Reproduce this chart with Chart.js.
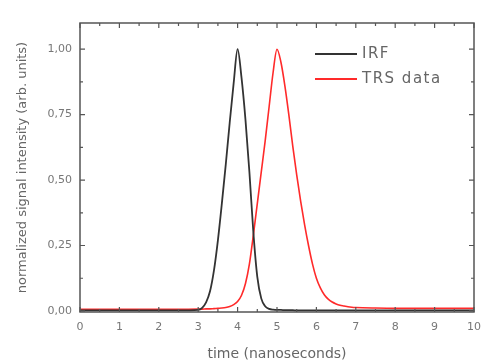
<!DOCTYPE html>
<html>
<head>
<meta charset="utf-8">
<script src="https://cdn.jsdelivr.net/npm/chart.js@4"></script>
<style>
  html, body { margin: 0; padding: 0; background: #fff; }
  #wrap { width: 482px; height: 363px; }
</style>
</head>
<body>
<div id="wrap"><canvas id="trsChart" width="482" height="363"></canvas></div>
<script>
// time axis in nanoseconds (finer spacing around the peaks)
const times = [0, 0.5, 1, 1.5, 2, 2.5,
  3.0, 3.1, 3.2, 3.3, 3.4, 3.5, 3.6, 3.7, 3.8, 3.9,
  4.0, 4.1, 4.2, 4.3, 4.4, 4.5, 4.6, 4.7, 4.8, 4.9,
  5.0, 5.1, 5.2, 5.3, 5.4, 5.5, 5.6, 5.7, 5.8, 5.9,
  6.0, 6.1, 6.2, 6.3, 6.4, 6.5, 6.6, 6.7, 6.8, 6.9,
  7.0, 7.5, 8, 8.5, 9, 9.5, 10];

// instrument response function
const irf = [0.002, 0.002, 0.002, 0.002, 0.002, 0.002,
  0.004, 0.012, 0.033, 0.075, 0.155, 0.27, 0.41, 0.56, 0.72, 0.87,
  1.0, 0.89, 0.73, 0.53, 0.30, 0.13, 0.048, 0.018, 0.008, 0.005,
  0.004, 0.004, 0.003, 0.003, 0.003, 0.002, 0.002, 0.002, 0.002, 0.002,
  0.002, 0.002, 0.002, 0.002, 0.002, 0.002, 0.002, 0.002, 0.002, 0.002,
  0.002, 0.002, 0.002, 0.002, 0.002, 0.002, 0.002];

// time-resolved spectroscopy data
const trs = [0.006, 0.006, 0.006, 0.006, 0.006, 0.006,
  0.007, 0.007, 0.008, 0.008, 0.009, 0.010, 0.011, 0.013, 0.017, 0.024,
  0.036, 0.06, 0.105, 0.18, 0.29, 0.41, 0.53, 0.65, 0.78, 0.91,
  1.0, 0.95, 0.86, 0.75, 0.63, 0.52, 0.42, 0.33, 0.25, 0.18,
  0.125, 0.088, 0.062, 0.045, 0.034, 0.027, 0.022, 0.019, 0.016, 0.014,
  0.013, 0.011, 0.010, 0.010, 0.010, 0.010, 0.010];

const xTicks = [0, 1, 2, 3, 4, 5, 6, 7, 8, 9, 10];
const yTicks = [0, 0.25, 0.5, 0.75, 1.0];

const toPoints = vals => times.map((t, i) => ({ x: t, y: vals[i] }));

// frame, inward tick marks and an in-plot legend
const framePlugin = {
  id: 'frame',
  afterDraw(chart) {
    const { ctx, chartArea: a, scales: { x, y } } = chart;
    ctx.save();
    ctx.strokeStyle = '#555';
    ctx.lineWidth = 1.5;
    ctx.strokeRect(a.left, a.top, a.right - a.left, a.bottom - a.top);

    ctx.lineWidth = 1.2;
    ctx.beginPath();
    for (let v = 0; v <= 10; v += 0.5) {
      const px = x.getPixelForValue(v);
      const len = Number.isInteger(v) ? 5 : 3;
      ctx.moveTo(px, a.bottom); ctx.lineTo(px, a.bottom - len);
      ctx.moveTo(px, a.top); ctx.lineTo(px, a.top + len);
    }
    for (let v = 0; v <= 1.0001; v += 0.125) {
      const py = y.getPixelForValue(v);
      const major = Math.abs(v / 0.25 - Math.round(v / 0.25)) < 1e-6;
      const len = major ? 5 : 3;
      ctx.moveTo(a.left, py); ctx.lineTo(a.left + len, py);
      ctx.moveTo(a.right, py); ctx.lineTo(a.right - len, py);
    }
    ctx.stroke();

    // legend
    ctx.font = '15px "DejaVu Sans"';
    ctx.letterSpacing = '1.5px';
    ctx.textBaseline = 'middle';
    ctx.fillStyle = '#666';
    chart.data.datasets.forEach((ds, i) => {
      const ly = 54 + i * 25;
      ctx.strokeStyle = ds.borderColor;
      ctx.lineWidth = 2;
      ctx.beginPath();
      ctx.moveTo(315, ly); ctx.lineTo(357, ly);
      ctx.stroke();
      ctx.fillText(ds.label, 362, ly);
    });
    ctx.restore();
  }
};

new Chart(document.getElementById('trsChart'), {
  type: 'line',
  data: {
    datasets: [
      {
        label: 'IRF',
        data: toPoints(irf),
        borderColor: '#333',
        borderWidth: 1.8,
        pointRadius: 0,
        cubicInterpolationMode: 'monotone'
      },
      {
        label: 'TRS data',
        data: toPoints(trs),
        borderColor: '#ff2a2a',
        borderWidth: 1.6,
        pointRadius: 0,
        cubicInterpolationMode: 'monotone'
      }
    ]
  },
  options: {
    responsive: false,
    animation: false,
    layout: { padding: { top: 23, right: 8, left: 0, bottom: 0 } },
    plugins: {
      legend: { display: false },
      tooltip: { enabled: false }
    },
    scales: {
      x: {
        type: 'linear',
        min: 0,
        max: 10,
        afterBuildTicks: s => { s.ticks = xTicks.map(v => ({ value: v })); },
        afterFit: s => { s.height = 51; s.paddingRight = 0; s.paddingLeft = 0; },
        grid: { display: false, drawTicks: false, tickLength: 0 },
        border: { display: false },
        ticks: {
          color: '#777',
          font: { family: 'DejaVu Sans', size: 11 },
          padding: 9,
          maxRotation: 0
        },
        title: {
          display: true,
          text: 'time (nanoseconds)',
          color: '#666',
          font: { family: 'DejaVu Sans', size: 14 },
          padding: { top: 10, bottom: 0 }
        }
      },
      y: {
        min: -0.004,
        max: 1.1,
        afterBuildTicks: s => { s.ticks = yTicks.map(v => ({ value: v })); },
        afterFit: s => { s.width = 80; s.paddingTop = 0; s.paddingBottom = 0; },
        grid: { display: false, drawTicks: false, tickLength: 0 },
        border: { display: false },
        ticks: {
          color: '#777',
          font: { family: 'DejaVu Sans', size: 11 },
          padding: 8,
          callback: v => v.toFixed(2).replace('.', ',')
        },
        title: {
          display: true,
          text: 'normalized signal intensity (arb. units)',
          color: '#666',
          font: { family: 'DejaVu Sans', size: 13 },
          padding: { top: 15, bottom: 0 }
        }
      }
    }
  },
  plugins: [framePlugin]
});
</script>
</body>
</html>
